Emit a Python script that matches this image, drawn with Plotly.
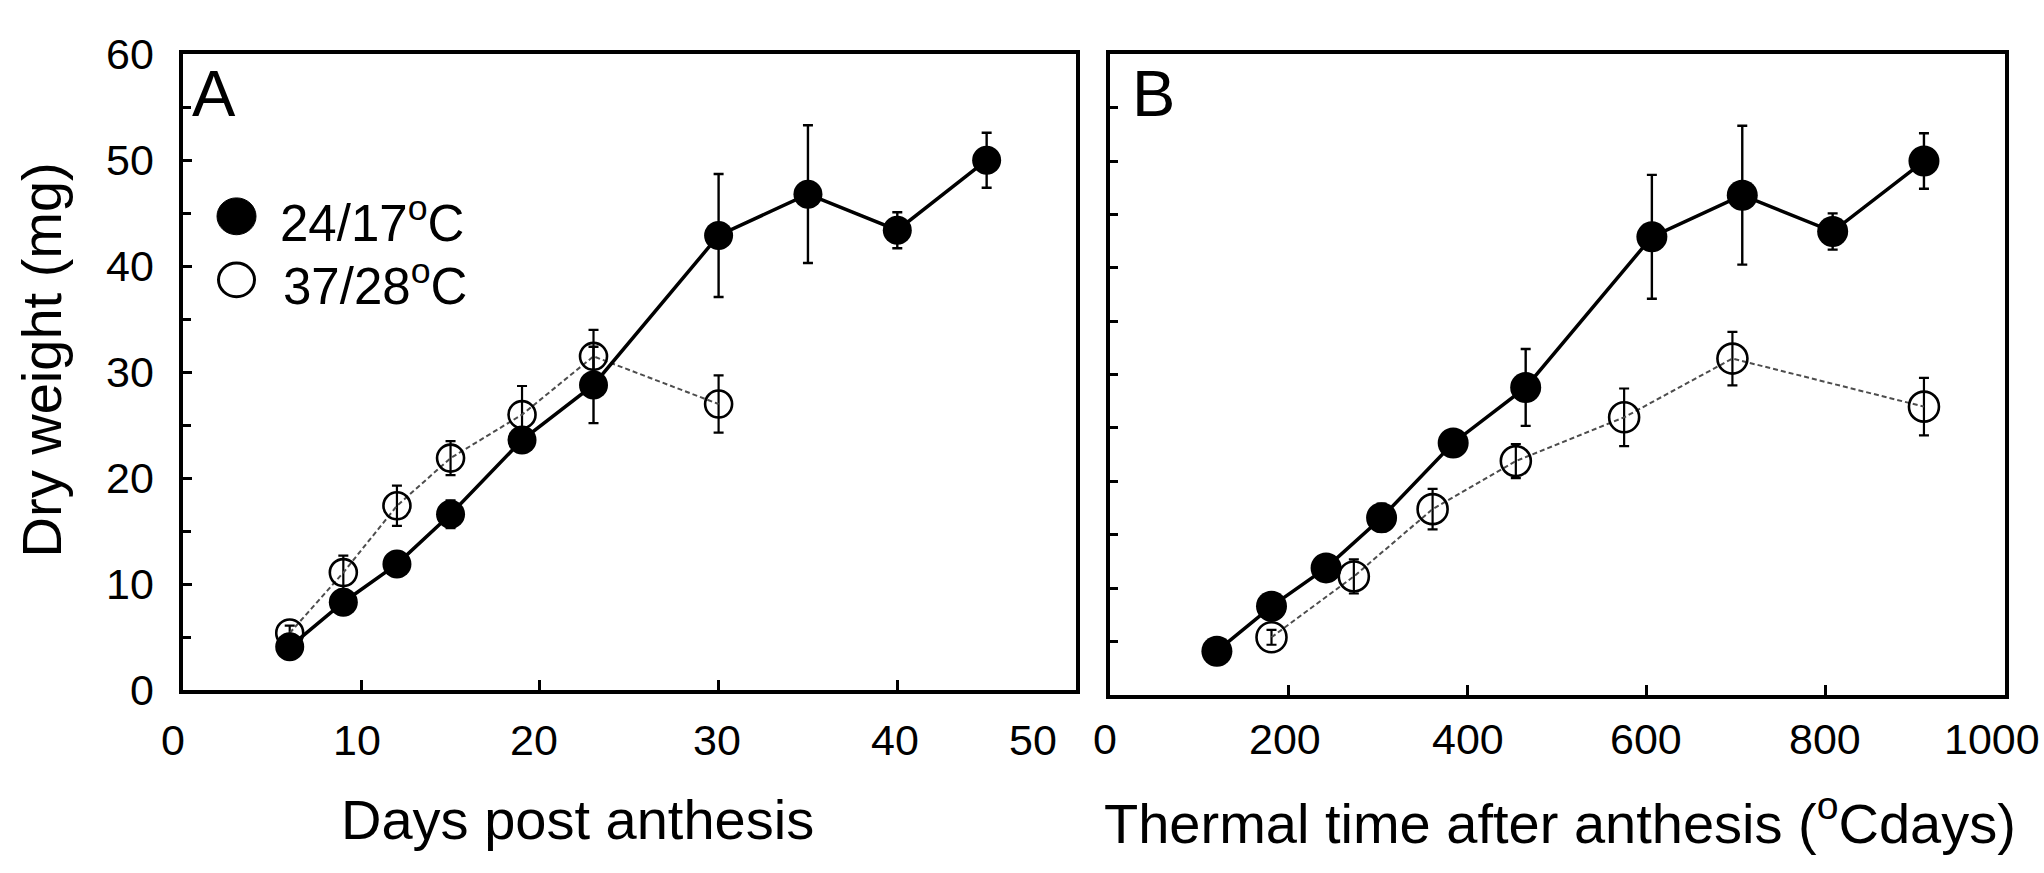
import plotly.graph_objects as go

# ---------------- data ----------------
days_cool = [6, 9, 12, 15, 19, 23, 30, 35, 40, 45]
tt_cool = [120, 181, 242, 304, 384, 465, 606, 707, 808, 910]
dw_cool = [4.1, 8.3, 11.9, 16.6, 23.6, 28.8, 42.9, 46.8, 43.4, 50.0]
err_cool = [0.4, 0.4, 0.5, 1.3, 0.5, 3.6, 5.8, 6.5, 1.7, 2.6]

days_hot = [6, 9, 12, 15, 19, 23, 30]
tt_hot = [181, 273, 361, 454, 575, 696, 910]
dw_hot = [5.4, 11.1, 17.4, 21.9, 26.0, 31.5, 27.0]
err_hot = [0.7, 1.6, 1.9, 1.6, 2.7, 2.5, 2.7]

series_names = ["24/17<sup>o</sup>C", "37/28<sup>o</sup>C"]
xticks_a = [0, 10, 20, 30, 40, 50]
xticks_b = [0, 200, 400, 600, 800, 1000]
yticks = [0, 10, 20, 30, 40, 50, 60]
panel_labels = ["A", "B"]
title_x_a = "Days post anthesis"
title_x_b = "Thermal time after anthesis (<sup>o</sup>Cdays)"
title_y = "Dry weight (mg)"

# ---------------- layout geometry (pixels) ----------------
W, H = 2044, 873
FONT = "Liberation Sans, Arial, Helvetica, sans-serif"


def fx(p):
    return p / W


def fy(p):
    return 1 - p / H


A_X0, A_X1, A_TOP, A_BOT = 182.5, 1076.0, 32.0, 705.0
B_X0, B_X1, B_TOP, B_BOT = 1109.5, 2004.5, 32.0, 710.0

fig = go.Figure()

hot_line = dict(color="#4d4d4d", width=2, dash="5px,3px")
cool_line = dict(color="black", width=3.5)

for xa, ya, xh, xc, s_hot, s_cool in [
    ("x", "y", days_hot, days_cool, 27, 29),
    ("x2", "y2", tt_hot, tt_cool, 30, 31),
]:
    fig.add_trace(go.Scatter(
        x=xh, y=dw_hot, xaxis=xa, yaxis=ya, mode="lines+markers",
        name=series_names[1], line=hot_line,
        marker=dict(symbol="circle-open", size=s_hot, color="black",
                    line=dict(width=2.6)),
        error_y=dict(type="data", array=err_hot, color="black",
                     thickness=2.2, width=5),
        showlegend=False,
    ))
    fig.add_trace(go.Scatter(
        x=xc, y=dw_cool, xaxis=xa, yaxis=ya, mode="lines+markers",
        name=series_names[0], line=cool_line,
        marker=dict(symbol="circle", size=s_cool, color="black"),
        error_y=dict(type="data", array=err_cool, color="black",
                     thickness=2.4, width=5),
        showlegend=False,
    ))

common_ax = dict(showline=True, linewidth=4, linecolor="black", mirror=True,
                 showgrid=False, zeroline=False, ticks="inside",
                 tickcolor="black", tickwidth=3)

fig.update_layout(
    width=W, height=H,
    margin=dict(l=0, r=0, t=0, b=0),
    paper_bgcolor="white", plot_bgcolor="white",
    showlegend=False,
    font=dict(family=FONT, color="black"),
    xaxis=dict(domain=[fx(A_X0), fx(A_X1)], range=[0, 50], anchor="y",
               tickvals=xticks_a[1:-1], ticklen=10, showticklabels=False,
               **common_ax),
    yaxis=dict(domain=[fy(A_BOT), fy(A_TOP)], range=[0, 60], anchor="x",
               tickvals=yticks, ticklen=9, showticklabels=True,
               tickfont=dict(size=43, family=FONT, color="black"),
               ticklabelstandoff=16,
               minor=dict(dtick=5, ticks="inside", ticklen=8, tickwidth=3,
                          tickcolor="black", showgrid=False),
               **common_ax),
    xaxis2=dict(domain=[fx(B_X0), fx(B_X1)], range=[0, 1000], anchor="y2",
                tickvals=xticks_b[1:-1], ticklen=10, showticklabels=False,
                **common_ax),
    yaxis2=dict(domain=[fy(B_BOT), fy(B_TOP)], range=[0, 60], anchor="x2",
                tickvals=list(range(5, 60, 5)), ticklen=8,
                showticklabels=False, **common_ax),
)

ann = []
# x tick labels, panel A (the last one is pulled left as in the original)
shift_a = [-10, -4, -6, -2, -2, -43]
for v, sh in zip(xticks_a, shift_a):
    ann.append(dict(x=v, xref="x", y=fy(758), yref="paper", text=str(v),
                    showarrow=False, xshift=sh, xanchor="center",
                    yanchor="middle", font=dict(size=43, family=FONT)))
# panel B (last label kept inside the page edge)
shift_b = [-5, -4, 0, -1, -1, -13]
for v, sh in zip(xticks_b, shift_b):
    ann.append(dict(x=v, xref="x2", y=fy(757), yref="paper", text=str(v),
                    showarrow=False, xshift=sh, xanchor="center",
                    yanchor="middle", font=dict(size=43, family=FONT)))

# axis titles
ann.append(dict(x=fx(577.5), y=fy(842), xref="paper", yref="paper",
                text=title_x_a, showarrow=False, xanchor="center",
                yanchor="middle", font=dict(size=56, family=FONT)))
ann.append(dict(x=fx(1560), y=fy(842), xref="paper", yref="paper",
                text=title_x_b, showarrow=False, xanchor="center",
                yanchor="middle", font=dict(size=56, family=FONT)))
ann.append(dict(x=fx(41), y=fy(356), xref="paper", yref="paper",
                text=title_y, showarrow=False, textangle=-90,
                xanchor="center", yanchor="middle",
                font=dict(size=56, family=FONT)))

# panel letters
ann.append(dict(x=fx(214), y=fy(74), xref="paper", yref="paper",
                text=panel_labels[0], showarrow=False, xanchor="center",
                yanchor="middle", font=dict(size=65, family=FONT)))
ann.append(dict(x=fx(1153), y=fy(74), xref="paper", yref="paper",
                text=panel_labels[1], showarrow=False, xanchor="center",
                yanchor="middle", font=dict(size=65, family=FONT)))

# legend text
ann.append(dict(x=fx(278), y=fy(207), xref="paper", yref="paper",
                text=series_names[0], showarrow=False, xanchor="left",
                yanchor="middle", font=dict(size=51, family=FONT)))
ann.append(dict(x=fx(281), y=fy(274), xref="paper", yref="paper",
                text=series_names[1], showarrow=False, xanchor="left",
                yanchor="middle", font=dict(size=51, family=FONT)))

fig.update_layout(annotations=ann)

# legend symbols
fig.add_shape(type="circle", xref="paper", yref="paper",
              x0=fx(217), x1=fx(256), y0=fy(223), y1=fy(184),
              fillcolor="black", line=dict(color="black", width=1))
fig.add_shape(type="circle", xref="paper", yref="paper",
              x0=fx(218.5), x1=fx(254.5), y0=fy(288.5), y1=fy(253),
              fillcolor="rgba(0,0,0,0)", line=dict(color="black", width=3))

fig.write_html("out.html")
